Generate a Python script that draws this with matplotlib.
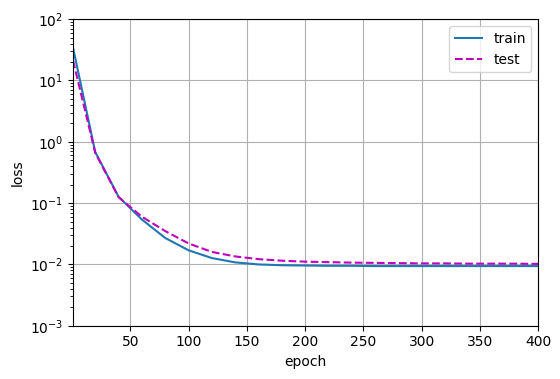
import matplotlib
matplotlib.use('Agg')
import matplotlib.pyplot as plt

# 20 에포크마다 기록된 손실값
epochs = [1, 20, 40, 60, 80, 100, 120, 140, 160, 180, 200,
          220, 240, 260, 280, 300, 320, 340, 360, 380, 400]
train_loss = [34, 0.68, 0.127, 0.054, 0.027, 0.017, 0.0127, 0.0108, 0.0100, 0.0097, 0.0096,
              0.0095, 0.0095, 0.0094, 0.0094, 0.0094, 0.0094, 0.0094, 0.0094, 0.0094, 0.0094]
test_loss = [21, 0.66, 0.125, 0.060, 0.035, 0.022, 0.016, 0.0135, 0.0122, 0.0115, 0.0111,
             0.0109, 0.0107, 0.0106, 0.0105, 0.0104, 0.0104, 0.0103, 0.0103, 0.0103, 0.0102]

fig = plt.figure(figsize=(5.6, 3.79), dpi=100)
ax = fig.add_axes([0.1305, 0.1405, 0.831, 0.809])

ax.plot(epochs, train_loss, '-', color='C0', label='train')
ax.plot(epochs, test_loss, 'm--', label='test')
ax.set_yscale('log')
ax.set_xlim(1, 400)
ax.set_ylim(1e-3, 1e2)
ax.set_xlabel('epoch')
ax.set_ylabel('loss')
ax.grid(True)
ax.legend(loc='upper right')

fig.savefig('out.png', dpi=100)
